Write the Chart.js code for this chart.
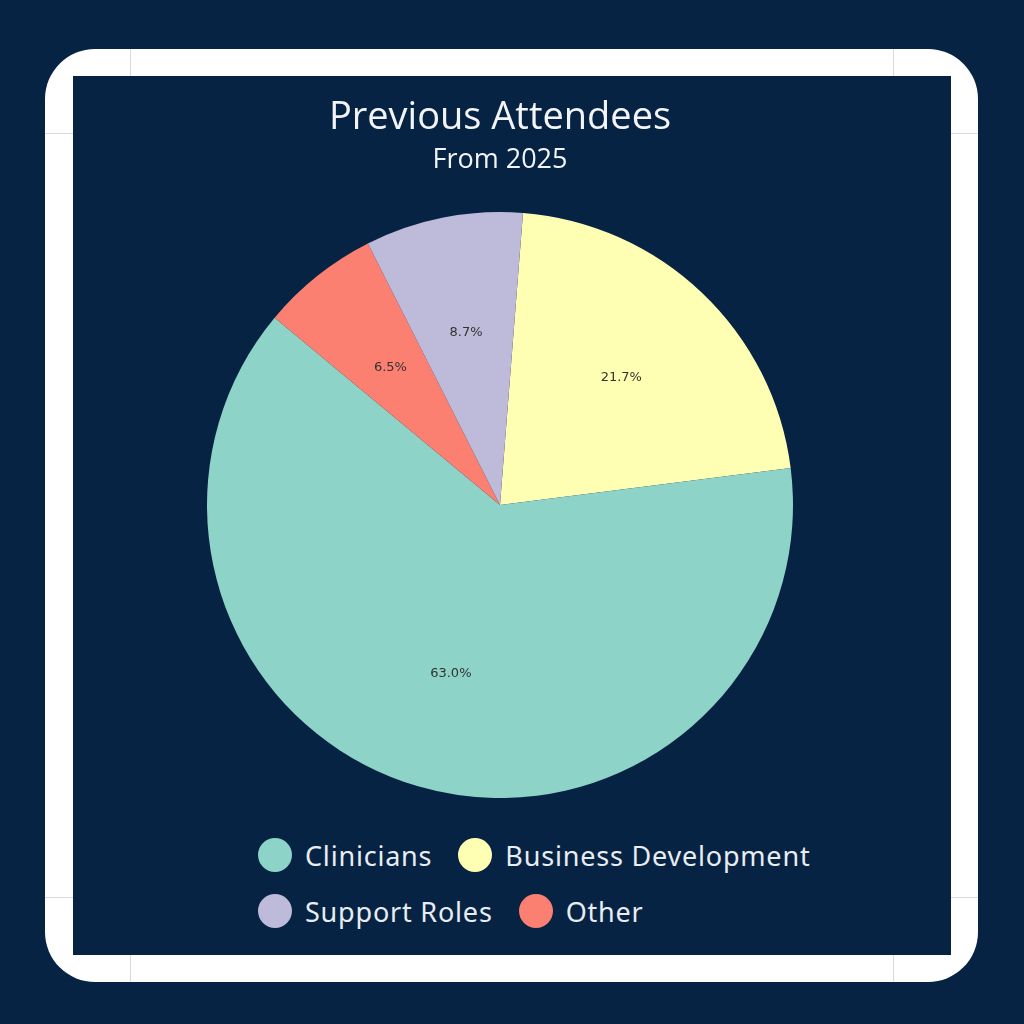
<!DOCTYPE html>
<html>
<head>
<meta charset="utf-8">
<script src="https://cdn.jsdelivr.net/npm/chart.js@4/dist/chart.umd.min.js"></script>
<style>
  html, body { margin: 0; padding: 0; }
  body { width: 1024px; height: 1024px; background: #072344; position: relative; overflow: hidden; }
  .frame { position: absolute; left: 45px; top: 49px; width: 933px; height: 933px; background: #ffffff; border-radius: 50px; overflow: hidden; }
  .guide { position: absolute; background: #d6dbe2; }
  .panel { position: absolute; left: 73px; top: 76px; width: 878px; height: 879px; background: #072344; }
  #wrap { position: absolute; left: 100px; top: 76px; width: 800px; height: 722px; }
  #legend { position: absolute; left: 258px; top: 838px; width: 575px; display: flex; flex-wrap: wrap; row-gap: 22px; column-gap: 26px;
            font-family: "Noto Sans", "Open Sans", sans-serif; font-size: 27px; letter-spacing: 0.8px; color: #e8edf2; }
  .item { display: flex; align-items: center; height: 34px; white-space: nowrap; }
  .dot { width: 34px; height: 34px; border-radius: 50%; margin-right: 13px; flex: none; }
</style>
</head>
<body>
<div class="frame">
  <div class="guide" style="left:85px; top:0; width:1px; height:933px;"></div>
  <div class="guide" style="left:848px; top:0; width:1px; height:933px;"></div>
  <div class="guide" style="left:0; top:84px; width:933px; height:1px;"></div>
  <div class="guide" style="left:0; top:848px; width:933px; height:1px;"></div>
</div>
<div class="panel"></div>
<div id="wrap"><canvas id="chart"></canvas></div>
<div id="legend"></div>
<script>
// ---- data ----
const categories = ["Clinicians", "Business Development", "Support Roles", "Other"];
const attendees = [29, 10, 4, 3];
const sliceColors = ["#8dd3c7", "#ffffb3", "#bebada", "#fb8072"];
// slices are drawn clockwise in this category order (matches the reference)
const clockwiseOrder = [1, 0, 3, 2];
const titleText = "Previous Attendees";
const subtitleText = "From 2025";

const total = attendees.reduce((a, b) => a + b, 0);

const pctLabels = {
  id: 'pctLabels',
  afterDatasetsDraw(chart) {
    const ctx = chart.ctx;
    const meta = chart.getDatasetMeta(0);
    const data = chart.data.datasets[0].data;
    ctx.save();
    ctx.font = '13px "DejaVu Sans"';
    ctx.fillStyle = '#333333';
    ctx.textAlign = 'center';
    ctx.textBaseline = 'middle';
    meta.data.forEach((arc, i) => {
      const p = arc.getProps(['x', 'y', 'startAngle', 'endAngle', 'outerRadius'], true);
      const mid = (p.startAngle + p.endAngle) / 2;
      const r = p.outerRadius * 0.6;
      const txt = (data[i] / total * 100).toFixed(1) + '%';
      ctx.fillText(txt, p.x + Math.cos(mid) * r, p.y + Math.sin(mid) * r);
    });
    ctx.restore();
  }
};

const chart = new Chart(document.getElementById('chart'), {
  type: 'pie',
  data: {
    labels: clockwiseOrder.map(i => categories[i]),
    datasets: [{
      data: clockwiseOrder.map(i => attendees[i]),
      backgroundColor: clockwiseOrder.map(i => sliceColors[i]),
      borderWidth: 0,
      hoverOffset: 0,
      offset: 0
    }]
  },
  options: {
    responsive: true,
    maintainAspectRatio: false,
    animation: false,
    rotation: 4.5,
    layout: { padding: 0 },
    plugins: {
      legend: { display: false },
      tooltip: { enabled: false },
      title: {
        display: true,
        text: titleText,
        color: '#f2f4f7',
        font: { family: '"Open Sans"', size: 38, weight: '400', lineHeight: 1.2 },
        padding: { top: 19, bottom: 0 }
      },
      subtitle: {
        display: true,
        text: subtitleText,
        color: '#f2f4f7',
        font: { family: '"Open Sans"', size: 27, weight: '400', lineHeight: 1.2 },
        padding: { top: 4, bottom: 35 }
      }
    }
  },
  plugins: [pctLabels]
});

// HTML legend built from the category arrays
const legendEl = document.getElementById('legend');
categories.forEach((name, i) => {
  const item = document.createElement('div');
  item.className = 'item';
  const dot = document.createElement('span');
  dot.className = 'dot';
  dot.style.background = sliceColors[i];
  const label = document.createElement('span');
  label.textContent = name;
  item.appendChild(dot);
  item.appendChild(label);
  legendEl.appendChild(item);
});
</script>
</body>
</html>
